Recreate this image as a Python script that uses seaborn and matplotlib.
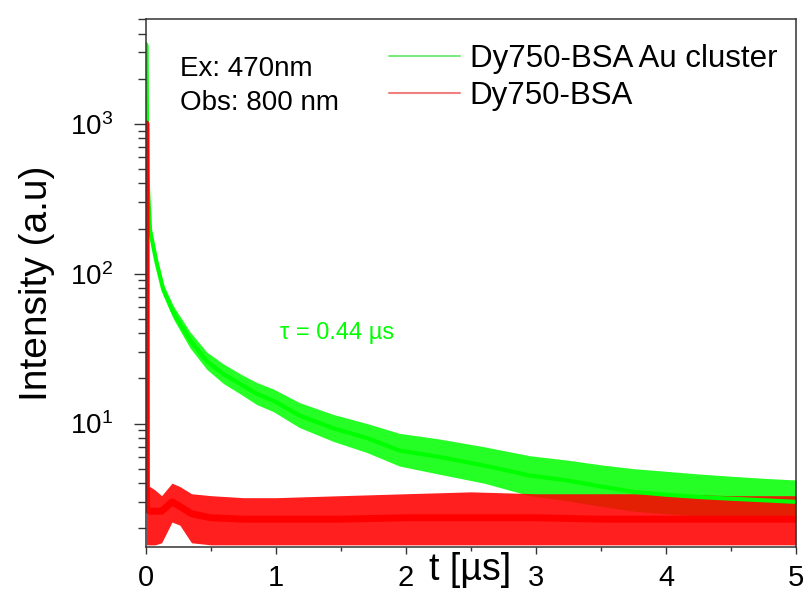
import numpy as np
import pandas as pd
import matplotlib
matplotlib.use("Agg")
import matplotlib.pyplot as plt
import matplotlib.ticker as mticker
import seaborn as sns

# ---- data ----
g_t = [0, 0.004, 0.008, 0.012, 0.018, 0.031, 0.056, 0.082, 0.133, 0.21, 0.338, 0.467,
       0.595, 0.723, 0.85, 0.98, 1.18, 1.44, 1.70, 1.95, 2.25, 2.6, 2.95, 3.24, 3.5,
       3.75, 4.0, 4.26, 4.5, 4.77, 5.0]
g_mean = [3400, 3300, 700, 450, 327, 196, 152, 118, 78, 55, 36, 26,
          21.4, 18.4, 15.8, 14.2, 11.3, 9.3, 8.0, 6.6, 6.0, 5.25, 4.5, 4.17, 3.8,
          3.5, 3.35, 3.23, 3.15, 3.07, 3.0]
g_hi = [3400, 3300, 720, 470, 340, 205, 162, 127, 85, 61, 41, 30,
        25, 21.5, 18.8, 17, 13.8, 11.5, 10, 8.6, 7.9, 7.0, 6.1, 5.7, 5.3,
        5.0, 4.8, 4.6, 4.45, 4.3, 4.2]
g_lo = [3400, 3300, 680, 430, 314, 188, 143, 110, 72, 50, 32, 23,
        18.5, 15.8, 13.4, 12, 9.4, 7.6, 6.4, 5.2, 4.6, 4.0, 3.3, 3.05, 2.8,
        2.6, 2.5, 2.4, 2.3, 2.25, 2.2]

r_t = [0, 0.003, 0.03, 0.07, 0.12, 0.2, 0.26, 0.35, 0.5, 0.75, 1.0, 1.5, 2.0, 2.5,
       3.0, 3.5, 4.0, 4.5, 5.0]
r_mean = [1000, 2.7, 2.6, 2.6, 2.6, 3.0, 2.8, 2.5, 2.35, 2.3, 2.3, 2.3, 2.35, 2.35,
          2.35, 2.3, 2.3, 2.3, 2.3]
r_hi = [1000, 3.6, 3.8, 3.6, 3.3, 4.0, 3.8, 3.4, 3.3, 3.2, 3.2, 3.3, 3.4, 3.5,
        3.4, 3.4, 3.4, 3.3, 3.3]
r_lo = [1000, 1.55, 1.55, 1.55, 1.6, 2.2, 2.1, 1.6, 1.55, 1.55, 1.55, 1.55, 1.55, 1.55,
        1.55, 1.55, 1.55, 1.55, 1.55]

series_names = ["Dy750-BSA Au cluster", "Dy750-BSA"]
x_ticks = [0, 1, 2, 3, 4, 5]

# ---- style ----
sns.set_theme(style="white")
plt.rcParams["font.family"] = ["Liberation Sans", "DejaVu Sans"]
plt.rcParams["mathtext.default"] = "regular"
plt.rcParams["text.color"] = "black"
plt.rcParams["axes.labelcolor"] = "black"
plt.rcParams["xtick.color"] = "black"
plt.rcParams["ytick.color"] = "black"

GREEN = "#00ff00"
RED = "#ff0000"
SPINE = "#333333"

fig = plt.figure(figsize=(8.06, 5.93), dpi=100)
ax = fig.add_axes([146 / 806, 1 - 547 / 593, 650 / 806, 528 / 593])

gdf = pd.DataFrame({"t": g_t, "I": g_mean})
rdf = pd.DataFrame({"t": r_t, "I": r_mean})

ax.fill_between(g_t, g_lo, g_hi, color=GREEN, alpha=0.85, linewidth=0)
sns.lineplot(data=gdf, x="t", y="I", ax=ax, color=GREEN, linewidth=3.0,
             label=series_names[0])
ax.fill_between(r_t, r_lo, r_hi, color=RED, alpha=0.88, linewidth=0)
sns.lineplot(data=rdf, x="t", y="I", ax=ax, color=RED, linewidth=5.0,
             label=series_names[1])

ax.set_yscale("log")
ax.set_xlim(0, 5)
ax.set_ylim(1.5, 5000)
ax.set_xticks(x_ticks)
ax.xaxis.set_minor_locator(mticker.MultipleLocator(0.5))
ax.yaxis.set_major_locator(mticker.LogLocator(base=10, numticks=10))
ax.yaxis.set_minor_locator(mticker.LogLocator(base=10, subs=np.arange(2, 10), numticks=20))
ax.yaxis.set_major_formatter(mticker.LogFormatterMathtext())
ax.yaxis.set_minor_formatter(mticker.NullFormatter())

for s in ax.spines.values():
    s.set_color(SPINE)
    s.set_linewidth(1.1)

ax.tick_params(axis="x", which="major", direction="out", length=5, width=1,
               color=SPINE, labelcolor="black", labelsize=21, pad=7,
               bottom=True, top=False)
ax.tick_params(axis="x", which="minor", direction="out", length=3, width=1,
               color=SPINE, bottom=True, top=False)
ax.tick_params(axis="y", which="major", direction="out", length=9, width=1,
               color=SPINE, labelcolor="black", labelsize=20, pad=15,
               left=True, right=False)
ax.tick_params(axis="y", which="minor", direction="out", length=5.5, width=1,
               color=SPINE, left=True, right=False)

ax.set_ylabel("Intensity (a.u)", fontsize=28, color="black", va="center")
ax.yaxis.set_label_coords(-0.168, 0.5)
ax.set_xlabel("t [µs]", fontsize=27, color="black", va="center")
ax.xaxis.set_label_coords(0.4985, -0.044)

ax.text(0.052, 0.905, "Ex: 470nm", transform=ax.transAxes, fontsize=20,
        ha="left", va="center", color="black")
ax.text(0.052, 0.84, "Obs: 800 nm", transform=ax.transAxes, fontsize=20,
        ha="left", va="center", color="black")
ax.text(1.47, 40.4, "τ = 0.44 µs", color=GREEN, fontsize=17, ha="center",
        va="center")

leg = ax.legend(loc="upper right", bbox_to_anchor=(1.005, 0.995), frameon=False,
                fontsize=22.5, handlelength=2.3, handletextpad=0.3,
                labelspacing=0.25, borderaxespad=0.3)
for txt in leg.get_texts():
    txt.set_color("black")
for h, c in zip(leg.get_lines(), ["#7fe87f", "#f08080"]):
    h.set_linewidth(1.5)
    h.set_color(c)

fig.savefig("out.png", dpi=100)
